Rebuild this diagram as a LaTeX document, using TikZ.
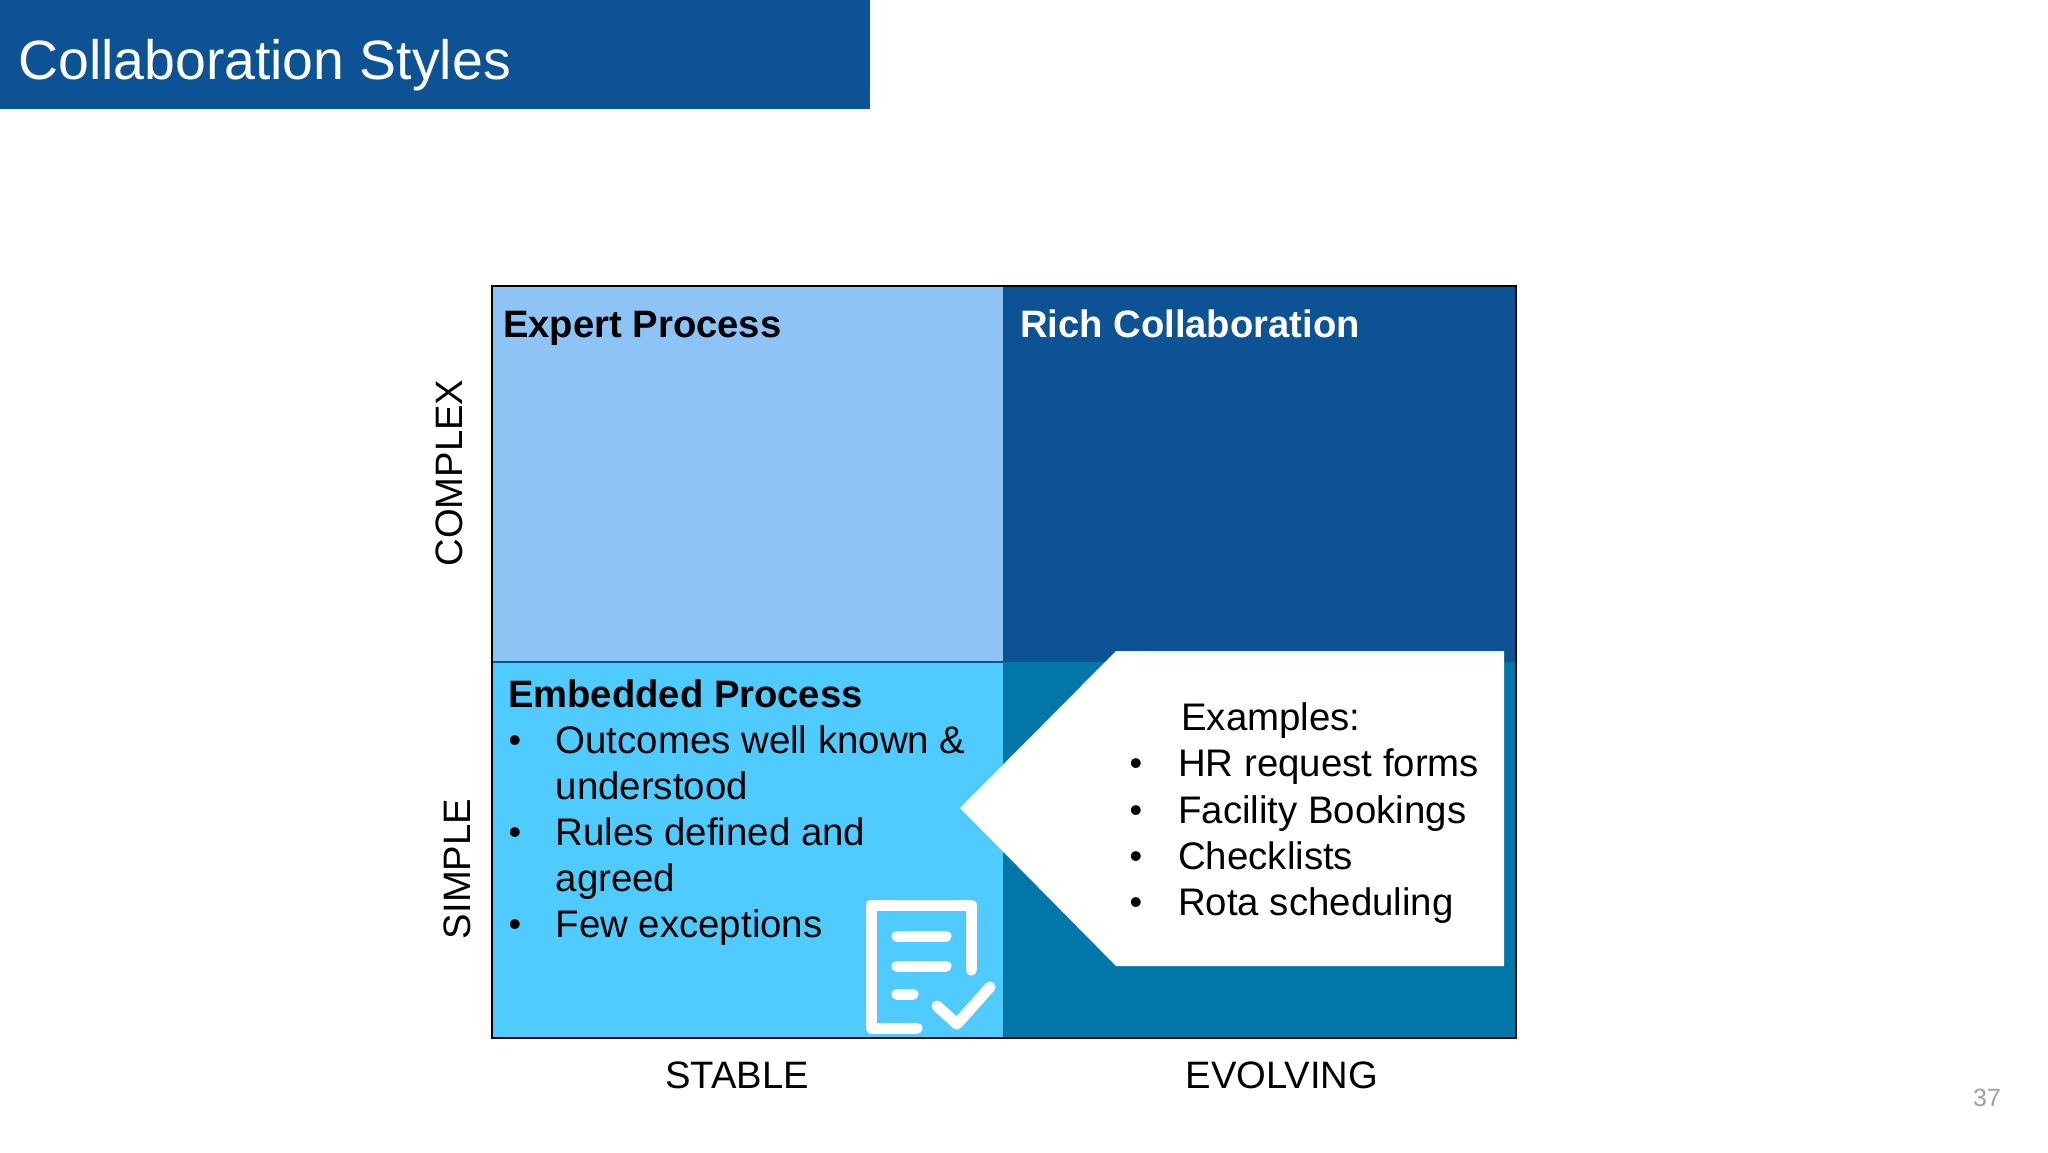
\documentclass[tikz,border=0pt]{standalone}
\usepackage{fontspec}
\setmainfont{Liberation Sans}
\definecolor{bannerblue}{HTML}{0E5296}
\definecolor{expertblue}{HTML}{8DC3F5}
\definecolor{embedblue}{HTML}{4FCBFF}
\definecolor{evolveblue}{HTML}{0077A8}
\definecolor{pagegrey}{HTML}{A0A0A0}
\tikzset{
	body/.style={font=\fontsize{38.4}{46}\selectfont, inner sep=0pt, anchor=base west},
	heading/.style={font=\fontsize{38.2}{46}\selectfont\bfseries, inner sep=0pt, anchor=base west},
	axis/.style={font=\fontsize{38.2}{46}\selectfont, inner sep=0pt},
	dot/.style={font=\fontsize{36}{46}\selectfont, inner sep=0pt, anchor=base, yshift=1pt},
	icon/.style={draw=white, line width=11pt, line cap=round, line join=round},
}
\begin{document}
\begin{tikzpicture}[x=1pt, y=-1pt]
	\useasboundingbox (0,0) rectangle (2048,1152);
	\fill[white] (0,0) rectangle (2048,1152);
	\coordinate (tl) at (492,286);
	\coordinate (br) at (1516,1038);
	\coordinate (mid) at (1003,662);
	% banner
	\fill[bannerblue] (0,0) rectangle (870,109);
	\node[font=\fontsize{55.4}{64}\selectfont, text=white, inner sep=0pt, anchor=base west] (title) at (18,79) {Collaboration Styles};
	% quadrants
	\fill[expertblue] (tl) rectangle (mid);
	\fill[bannerblue] (tl -| mid) rectangle (mid -| br);
	\fill[embedblue] (tl |- mid) rectangle (mid |- br);
	\fill[evolveblue] (mid) rectangle (br);
	\draw[bannerblue, line width=1.5pt] (tl |- mid) -- (mid);
	\draw[black, line width=2.5pt] (tl) rectangle (br);
	% pointer
	\fill[white] (960,808) -- (1116,651) -- (1504,651) -- (1504,966) -- (1116,966) -- cycle;
	% headings
	\node[heading] (expert) at (503,337.5) {Expert Process};
	\node[heading, text=white] (rich) at (1020,337.5) {Rich Collaboration};
	\node[heading] (embedded) at (508,707) {Embedded Process};
	% left list
	\foreach \i/\y/\t in {1/753.5/Outcomes well known \&, 2/799.5/understood, 3/845.5/Rules defined and, 4/891.5/agreed, 5/937.5/Few exceptions}
		\node[body] (left\i) at (555.5,\y) {\t};
	\foreach \i/\y in {1/753.5, 3/845.5, 5/937.5}
		\node[dot] (leftdot\i) at (515,\y) {\textbullet};
	% right list
	\node[body] (examples) at (1181,730.5) {Examples:};
	\foreach \i/\y/\t in {1/776.5/HR request forms, 2/823/Facility Bookings, 3/869/Checklists, 4/915/Rota scheduling}{
		\node[body] (right\i) at (1178,\y) {\t};
		\node[dot] (rightdot\i) at (1136,\y) {\textbullet};
	}
	% axis labels
	\node[axis, rotate=90] (complex) at (449,473) {COMPLEX};
	\node[axis, rotate=90] (simple) at (457,869) {SIMPLE};
	\node[axis] (stable) at (737,1075) {STABLE};
	\node[axis] (evolving) at (1282,1075) {EVOLVING};
	\node[font=\fontsize{25}{30}\selectfont, text=pagegrey, inner sep=0pt] (pagenum) at (1987,1098) {37};
	% checklist icon
	\draw[icon] (971,970) -- (971,905) -- (871,905) -- (871,1028) -- (917,1028);
	\draw[icon] (897,936) -- (946,936);
	\draw[icon] (897,966) -- (946,966);
	\draw[icon] (897,994) -- (913,994);
	\draw[icon] (937,1006) -- (957,1024) -- (990,987);
\end{tikzpicture}
\end{document}
